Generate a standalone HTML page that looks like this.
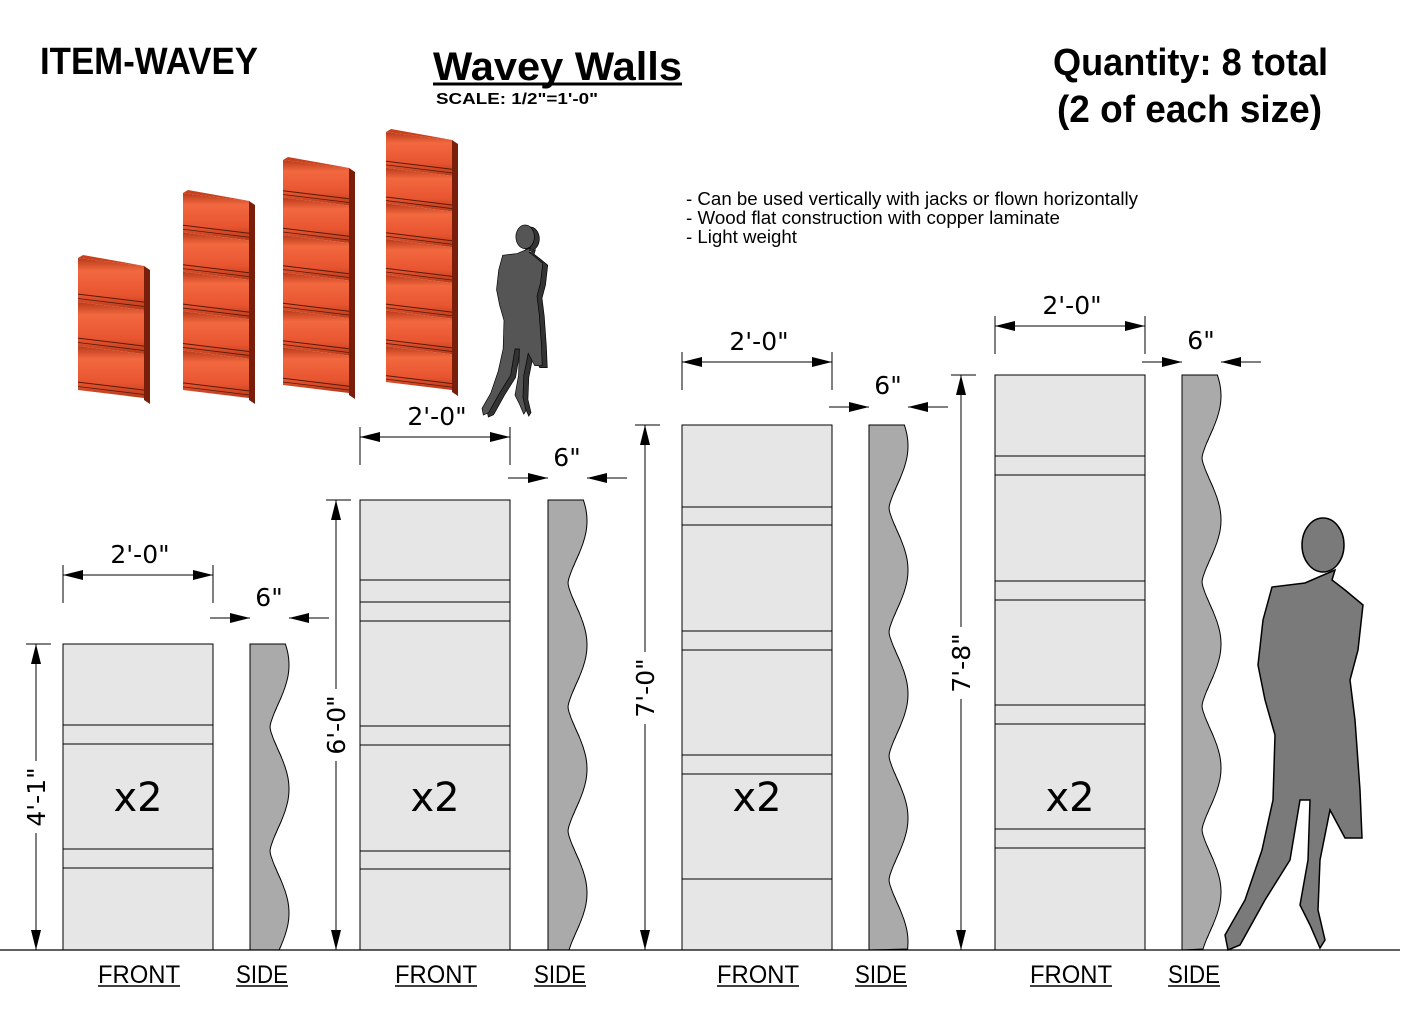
<!DOCTYPE html>
<html><head><meta charset="utf-8"><style>
body{margin:0;background:#fff;}
svg{display:block}
.t{font-family:"Liberation Sans",Arial,sans-serif}
.n{font-family:"Liberation Sans",sans-serif}
.d{font-family:"DejaVu Sans","Liberation Sans",sans-serif;font-size:25px}
.x2{font-family:"DejaVu Sans","Liberation Sans",sans-serif;font-size:40px}
</style></head><body>
<svg id="s" width="1405" height="1021" viewBox="0 0 1405 1021" xmlns="http://www.w3.org/2000/svg">
<defs>
<marker id="ar" viewBox="0 0 20 10" refX="20" refY="5" markerWidth="20" markerHeight="10" markerUnits="userSpaceOnUse" orient="auto"><path d="M0,0 L20,5 L0,10 Z" fill="#000"/></marker>
<linearGradient id="og" x1="0" y1="0" x2="0" y2="1"><stop offset="0" stop-color="#b83a1a"/><stop offset="0.25" stop-color="#f2683f"/><stop offset="0.7" stop-color="#e85530"/><stop offset="1" stop-color="#b83a1a"/></linearGradient>
</defs>
<text x="40" y="74" class="n" font-size="38" font-weight="bold" textLength="218" lengthAdjust="spacingAndGlyphs">ITEM-WAVEY</text>
<text x="433" y="80" class="t" font-size="40" font-weight="bold" textLength="249" lengthAdjust="spacingAndGlyphs">Wavey Walls</text>
<line x1="433" y1="84" x2="682" y2="84" stroke="#000" stroke-width="3"/>
<text x="436" y="104" class="t" font-size="16" font-weight="bold" textLength="162" lengthAdjust="spacingAndGlyphs">SCALE: 1/2"=1'-0"</text>
<text x="1053" y="75" class="n" font-size="38" font-weight="bold" textLength="275" lengthAdjust="spacingAndGlyphs">Quantity: 8 total</text>
<text x="1057" y="122" class="n" font-size="38" font-weight="bold" textLength="265" lengthAdjust="spacingAndGlyphs">(2 of each size)</text>
<text class="t" font-size="18"><tspan x="686" y="205" textLength="452" lengthAdjust="spacingAndGlyphs">- Can be used vertically with jacks or flown horizontally</tspan><tspan x="686" y="224" textLength="374" lengthAdjust="spacingAndGlyphs">- Wood flat construction with copper laminate</tspan><tspan x="686" y="243" textLength="111" lengthAdjust="spacingAndGlyphs">- Light weight</tspan></text>
<g id="iso"></g>
<g id="main"></g>
<line x1="0" y1="950" x2="1400" y2="950" stroke="#000" stroke-width="1.2"/>
</svg>
<script>
var NS="http://www.w3.org/2000/svg";
function el(p,tag,a,txt){var e=document.createElementNS(NS,tag);for(var k in a)e.setAttribute(k,a[k]);if(txt!==undefined)e.textContent=txt;p.appendChild(e);return e;}
var main=document.getElementById('main'),iso=document.getElementById('iso');
var walls=[
 {fx:63,sx:250,top:644,lines:[725,744,849,868],vx:36,vl:"4'-1\"",vy:797,hy:575,sy:618,sly:597},
 {fx:360,sx:548,top:500,lines:[580,602,621,726,745,851,869],vx:336,vl:"6'-0\"",vy:725,hy:437,sy:478,sly:457},
 {fx:682,sx:869,top:425,lines:[507,525,631,650,755,774,879],vx:645,vl:"7'-0\"",vy:688,hy:362,sy:407,sly:385},
 {fx:995,sx:1182,top:375,lines:[456,475,581,600,705,724,829,848],vx:961,vl:"7'-8\"",vy:663,hy:326,sy:362,sly:340}
];
walls.forEach(function(w){
 el(main,'rect',{x:w.fx,y:w.top,width:150,height:950-w.top,fill:'#e6e6e6',stroke:'#000','stroke-width':1});
 w.lines.forEach(function(y){el(main,'line',{x1:w.fx,x2:w.fx+150,y1:y,y2:y,stroke:'#000','stroke-width':1});});
 el(main,'text',{x:w.fx+75,y:811,'text-anchor':'middle',class:'x2'},'x2');
 var d='M'+w.sx+','+w.top;
 for(var y=w.top;y<=950;y+=2){var c=(1+Math.cos(2*Math.PI*(y-(w.top+21))/124))/2;
  var x=w.sx+20+19*Math.pow(c,0.7);d+=' L'+x.toFixed(1)+','+y;}
 d+=' L'+w.sx+',950 Z';
 el(main,'path',{d:d,fill:'#aaaaaa',stroke:'#000','stroke-width':1});
 var a=w.fx,b=w.fx+150;
 el(main,'line',{x1:a,x2:a,y1:w.hy-10,y2:w.hy+28,stroke:'#000'});
 el(main,'line',{x1:b,x2:b,y1:w.hy-10,y2:w.hy+28,stroke:'#000'});
 el(main,'line',{x1:a+75,y1:w.hy,x2:a,y2:w.hy,stroke:'#000','marker-end':'url(#ar)'});
 el(main,'line',{x1:a+75,y1:w.hy,x2:b,y2:w.hy,stroke:'#000','marker-end':'url(#ar)'});
 el(main,'text',{x:a+77,y:w.hy-12,'text-anchor':'middle',class:'d'},"2'-0\"");
 el(main,'line',{x1:w.sx-40,y1:w.sy,x2:w.sx,y2:w.sy,stroke:'#000','marker-end':'url(#ar)'});
 el(main,'line',{x1:w.sx+79,y1:w.sy,x2:w.sx+39,y2:w.sy,stroke:'#000','marker-end':'url(#ar)'});
 el(main,'text',{x:w.sx+19,y:w.sly+9,'text-anchor':'middle',class:'d'},'6"');
 el(main,'line',{x1:w.vx-10,x2:w.vx+15,y1:w.top,y2:w.top,stroke:'#000'});
 el(main,'line',{x1:w.vx,y1:w.vy,x2:w.vx,y2:w.top,stroke:'#000','marker-end':'url(#ar)'});
 el(main,'line',{x1:w.vx,y1:w.vy,x2:w.vx,y2:950,stroke:'#000','marker-end':'url(#ar)'});
 var g=el(main,'g',{transform:'translate('+(w.vx+9)+','+w.vy+') rotate(-90)'});
 el(g,'rect',{x:-36,y:-22,width:72,height:26,fill:'#fff'});
 el(g,'text',{x:0,y:0,'text-anchor':'middle',class:'d'},w.vl);
 el(main,'text',{x:w.fx+35,y:983,class:'t','font-size':25,textLength:82,lengthAdjust:'spacingAndGlyphs'},'FRONT');
 el(main,'line',{x1:w.fx+35,x2:w.fx+117,y1:986,y2:986,stroke:'#000','stroke-width':1.5});
 el(main,'text',{x:w.sx-14,y:983,class:'t','font-size':25,textLength:52,lengthAdjust:'spacingAndGlyphs'},'SIDE');
 el(main,'line',{x1:w.sx-14,x2:w.sx+38,y1:986,y2:986,stroke:'#000','stroke-width':1.5});
});
[[78,258,390,3],[183,193,390,5],[283,160,385,6],[386,132,382,7]].forEach(function(p){
 var x=p[0],t=p[1],b=p[2],n=p[3],w=66,sk=8;
 el(iso,'polygon',{points:(x+w)+','+(t+sk)+' '+(x+w+6)+','+(t+sk+4)+' '+(x+w+6)+','+(b+sk+6)+' '+(x+w)+','+(b+sk+2),fill:'#7a1e0c'});
 var seg=(b-t)/n;
 for(var i=0;i<n;i++){var y0=t+i*seg;
  el(iso,'polygon',{points:x+','+y0+' '+(x+w)+','+(y0+sk)+' '+(x+w)+','+(y0+seg+sk)+' '+x+','+(y0+seg),fill:'url(#og)'});
  el(iso,'line',{x1:x,y1:y0+seg*0.82,x2:x+w,y2:y0+seg*0.82+sk,stroke:'#5a1a0a','stroke-width':1});
  el(iso,'line',{x1:x,y1:y0+seg*0.92,x2:x+w,y2:y0+seg*0.92+sk,stroke:'#5a1a0a','stroke-width':0.8});
 }
 el(iso,'polygon',{points:x+','+t+' '+(x+5)+','+(t-3)+' '+(x+w+6)+','+(t+sk+1)+' '+(x+w)+','+(t+sk),fill:'#c9401c'});
});
var pts="1305,583 1272,587 1263,620 1258,665 1265,700 1275,735 1273,800 1262,850 1245,900 1225,935 1228,950 1240,945 1265,900 1290,860 1300,800 1310,800 1308,860 1300,905 1310,925 1320,948 1325,940 1318,910 1320,860 1330,810 1345,838 1362,838 1360,790 1355,720 1350,680 1358,650 1363,605 1345,590 1332,580 1335,570";
function person(p,tr,fill){var g=el(p,'g',{transform:tr});
 el(g,'polygon',{points:pts,fill:fill,stroke:'#000','stroke-width':1.5});
 el(g,'ellipse',{cx:1323,cy:545,rx:21,ry:27,fill:fill,stroke:'#000','stroke-width':1.5});}
person(main,'',"#7a7a7a");
person(iso,'translate(-52,-1) scale(0.44)',"#333");
person(iso,'translate(-57,-3) scale(0.44)',"#555");
</script>
</body></html>
